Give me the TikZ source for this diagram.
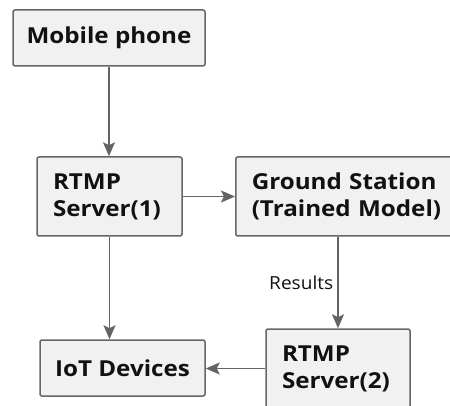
\documentclass[tikz,border=0pt]{standalone}
\usepackage{fontspec}
\setmainfont{Open Sans}
\newfontfamily\boxfont[FakeStretch=1.1]{Open Sans}
\newfontfamily\lblfont[FakeStretch=1.06]{Open Sans}
\usetikzlibrary{arrows.meta,calc}
\definecolor{boxfill}{HTML}{F1F1F1}
\definecolor{boxline}{HTML}{666666}
\definecolor{arrowc}{HTML}{636363}
\definecolor{txt}{HTML}{111111}
\tikzset{
  box/.style={draw=boxline, fill=boxfill, line width=1.5pt, rounded corners=2pt,
    font=\boxfont\fontsize{22}{27}\selectfont\bfseries, text=txt, inner sep=0pt},
  lbox/.style={box, align=left, inner xsep=16pt},
  conn/.style={draw=arrowc, line width=1.6pt, -{Stealth[length=14pt,width=12pt,inset=3pt]}},
  lbl/.style={font=\lblfont\fontsize{18}{22}\selectfont, text=txt, inner sep=4pt}
}
\begin{document}
\begin{tikzpicture}[x=1pt,y=1pt]
\useasboundingbox (0,0) rectangle (450,-406);
\begin{scope}
\clip (0,0) rectangle (450,-406);
\node[box, minimum width=192pt, minimum height=56pt] (mob) at (109,-38) {Mobile phone};
\node[lbox, text width=113pt, minimum height=79pt] (r1) at (109.5,-196.5) {RTMP\\Server(1)};
\node[lbox, text width=220pt, minimum height=79pt, anchor=west] (gs) at (235,-196.5) {Ground Station\\(Trained Model)};
\node[box, minimum width=165pt, minimum height=56pt] (iot) at (122.5,-368) {IoT Devices};
\node[lbox, text width=112pt, minimum height=79pt] (r2) at (338,-368.5) {RTMP\\Server(2)};
\draw[conn] (mob.south) -- (mob.south |- r1.north);
\draw[conn] (r1.east) -- (r1.east -| gs.west);
\draw[conn] (r2.north |- gs.south) -- node[lbl, left] (res) {Results} (r2.north);
\draw[conn] (r1.south) -- (r1.south |- iot.north);
\draw[conn] (r2.west) -- (r2.west -| iot.east);
\end{scope}
\end{tikzpicture}
\end{document}
